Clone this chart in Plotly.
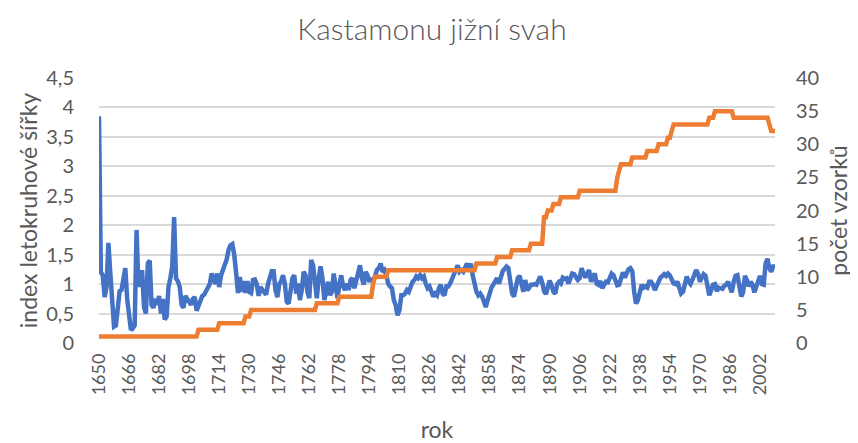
import plotly.graph_objects as go

title_text = "Kastamonu jižní svah"
x_title = "rok"
y1_title = "index letokruhové šířky"
y2_title = "počet vzorků"

start_year = 1650
end_year = 2010
years = list(range(start_year, end_year + 1))

# ring-width index, one value per year (1650..2010)
ring_index = [
    3.85, 1.2, 1.15, 0.78, 0.95, 1.7, 1.2, 0.6, 0.28, 0.3,      # 1650s
    0.6, 0.88, 0.9, 1.05, 1.27, 0.75, 0.4, 0.22, 0.25, 0.3,      # 1660s
    1.92, 0.95, 1.2, 1.2, 0.6, 0.5, 1.35, 1.4, 0.65, 0.6,        # 1670s
    0.75, 0.65, 0.8, 0.5, 0.75, 0.4, 0.45, 0.95, 1.1, 1.3,       # 1680s
    2.14, 1.1, 1.05, 0.95, 0.65, 0.6, 0.8, 0.75, 0.7, 0.65,      # 1690s
    0.75, 0.78, 0.55, 0.65, 0.73, 0.8, 0.82, 0.87, 0.92, 1.0,    # 1700s
    1.18, 1.1, 1.0, 1.18, 0.95, 1.15, 1.24, 1.3, 1.42, 1.58,     # 1710s
    1.66, 1.68, 1.5, 1.2, 0.85, 1.12, 0.87, 1.05, 0.85, 1.05,    # 1720s
    0.87, 0.85, 1.07, 1.08, 1.0, 0.8, 0.95, 0.9, 0.85, 0.82,     # 1730s
    1.0, 1.15, 1.22, 1.22, 0.9, 0.78, 1.0, 1.05, 1.15, 1.0,      # 1740s
    0.7, 0.67, 0.85, 1.1, 1.15, 0.84, 1.01, 0.73, 0.9, 1.21,     # 1750s
    1.15, 0.87, 0.76, 1.41, 1.32, 0.93, 0.76, 1.1, 1.3, 1.1,     # 1760s
    0.73, 0.87, 1.04, 0.81, 0.87, 1.18, 0.99, 0.76, 0.99, 1.15,  # 1770s
    0.96, 0.9, 1.01, 0.9, 1.07, 1.1, 0.93, 1.07, 1.21, 1.32,     # 1780s
    1.1, 0.99, 1.21, 1.15, 1.04, 1.1, 1.04, 1.15, 1.24, 1.27,    # 1790s
    1.35, 1.21, 1.24, 1.15, 1.01, 0.96, 0.93, 0.73, 0.64, 0.47,  # 1800s
    0.56, 0.81, 0.81, 0.84, 0.9, 0.87, 0.96, 1.04, 1.07, 1.13,   # 1810s
    1.1, 1.15, 1.1, 1.13, 1.01, 0.93, 0.96, 0.87, 0.79, 0.84,    # 1820s
    0.81, 0.93, 0.99, 0.84, 0.81, 0.96, 0.96, 1.01, 1.1, 1.15,   # 1830s
    1.27, 1.32, 1.21, 1.24, 1.21, 1.3, 1.35, 1.27, 1.35, 1.15,   # 1840s
    0.96, 0.87, 0.81, 0.84, 0.79, 0.67, 0.61, 0.73, 0.84, 0.94,  # 1850s
    0.99, 1.04, 1.1, 1.01, 1.15, 1.22, 1.26, 1.3, 1.27, 1.1,     # 1860s
    0.84, 0.79, 0.96, 1.1, 1.14, 1.01, 0.87, 1.07, 0.9, 0.93,    # 1870s
    0.99, 0.99, 1.0, 0.99, 1.07, 1.13, 1.03, 0.88, 0.83, 0.93,   # 1880s
    1.06, 0.98, 0.87, 0.84, 1.0, 1.04, 1.01, 1.11, 1.09, 1.1,    # 1890s
    1.01, 1.09, 1.18, 1.17, 1.13, 1.07, 1.1, 1.27, 1.18, 1.11,   # 1900s
    1.18, 1.24, 1.04, 1.1, 1.18, 1.01, 0.99, 1.05, 0.93, 0.99,   # 1910s
    1.04, 1.03, 1.1, 1.18, 1.15, 1.04, 0.98, 0.99, 1.11, 1.2,    # 1920s
    1.11, 1.21, 1.25, 1.27, 1.22, 0.87, 0.67, 0.73, 0.87, 0.99,  # 1930s
    0.94, 0.96, 0.94, 1.04, 1.04, 0.99, 0.9, 0.98, 1.05, 1.11,   # 1940s
    1.14, 1.17, 1.14, 1.18, 1.15, 1.09, 1.01, 1.0, 1.04, 0.94,   # 1950s
    0.84, 0.87, 1.04, 1.13, 1.04, 1.0, 1.07, 1.17, 1.24, 1.18,   # 1960s
    1.04, 1.11, 1.17, 1.14, 0.93, 0.81, 0.9, 0.99, 1.0, 0.88,    # 1970s
    0.94, 0.93, 0.92, 0.97, 0.99, 1.04, 0.97, 0.86, 1.04, 1.14,  # 1980s
    1.15, 1.01, 0.79, 0.86, 1.14, 1.07, 0.96, 1.04, 0.99, 0.86,  # 1990s
    0.94, 1.07, 1.14, 1.0, 0.99, 1.35, 1.43, 1.27, 1.21, 1.3,    # 2000s
    1.3,                                                         # 2010
]

# number of samples per year (1650..2010)
sample_count = [
    1, 1, 1, 1, 1, 1, 1, 1, 1, 1,              # 1650s
    1, 1, 1, 1, 1, 1, 1, 1, 1, 1,              # 1660s
    1, 1, 1, 1, 1, 1, 1, 1, 1, 1,              # 1670s
    1, 1, 1, 1, 1, 1, 1, 1, 1, 1,              # 1680s
    1, 1, 1, 1, 1, 1, 1, 1, 1, 1,              # 1690s
    1, 1, 1, 2, 2, 2, 2, 2, 2, 2,              # 1700s
    2, 2, 2, 2, 3, 3, 3, 3, 3, 3,              # 1710s
    3, 3, 3, 3, 3, 3, 3, 3, 4, 4,              # 1720s
    4, 5, 5, 5, 5, 5, 5, 5, 5, 5,              # 1730s
    5, 5, 5, 5, 5, 5, 5, 5, 5, 5,              # 1740s
    5, 5, 5, 5, 5, 5, 5, 5, 5, 5,              # 1750s
    5, 5, 5, 5, 5, 5, 6, 6, 6, 6,              # 1760s
    6, 6, 6, 6, 6, 6, 6, 6, 7, 7,              # 1770s
    7, 7, 7, 7, 7, 7, 7, 7, 7, 7,              # 1780s
    7, 7, 7, 7, 7, 7, 9, 10, 10, 10,           # 1790s
    10, 10, 10, 10, 11, 11, 11, 11, 11, 11,    # 1800s
    11, 11, 11, 11, 11, 11, 11, 11, 11, 11,    # 1810s
    11, 11, 11, 11, 11, 11, 11, 11, 11, 11,    # 1820s
    11, 11, 11, 11, 11, 11, 11, 11, 11, 11,    # 1830s
    11, 11, 11, 11, 11, 11, 11, 11, 11, 11,    # 1840s
    11, 12, 12, 12, 12, 12, 12, 12, 12, 12,    # 1850s
    12, 12, 13, 13, 13, 13, 13, 13, 13, 13,    # 1860s
    14, 14, 14, 14, 14, 14, 14, 14, 14, 14,    # 1870s
    15, 15, 15, 15, 15, 15, 15, 19, 19, 20,    # 1880s
    20, 20, 21, 21, 21, 21, 22, 22, 22, 22,    # 1890s
    22, 22, 22, 22, 22, 22, 23, 23, 23, 23,    # 1900s
    23, 23, 23, 23, 23, 23, 23, 23, 23, 23,    # 1910s
    23, 23, 23, 23, 23, 23, 25, 26, 27, 27,    # 1920s
    27, 27, 27, 27, 28, 28, 28, 28, 28, 28,    # 1930s
    28, 28, 29, 29, 29, 29, 29, 29, 30, 30,    # 1940s
    30, 30, 30, 31, 31, 32, 33, 33, 33, 33,    # 1950s
    33, 33, 33, 33, 33, 33, 33, 33, 33, 33,    # 1960s
    33, 33, 33, 33, 33, 34, 34, 34, 35, 35,    # 1970s
    35, 35, 35, 35, 35, 35, 35, 35, 34, 34,    # 1980s
    34, 34, 34, 34, 34, 34, 34, 34, 34, 34,    # 1990s
    34, 34, 34, 34, 34, 34, 34, 33, 32, 32,    # 2000s
    32,                                        # 2010
]

x_tick_years = list(range(1650, 2003, 16))
y1_ticks = [0, 0.5, 1, 1.5, 2, 2.5, 3, 3.5, 4, 4.5]
y1_ticktext = ["0", "0,5", "1", "1,5", "2", "2,5", "3", "3,5", "4", "4,5"]
y2_ticks = [0, 5, 10, 15, 20, 25, 30, 35, 40]

FONT = "Lato, Carlito, Calibri, sans-serif"
GREY = "#595959"
GRID = "#d9d9d9"

fig = go.Figure()
fig.add_trace(go.Scatter(
    x=years, y=ring_index, mode="lines", name="index",
    line=dict(color="#4472C4", width=4.5), yaxis="y",
))
fig.add_trace(go.Scatter(
    x=years, y=sample_count, mode="lines", name="počet",
    line=dict(color="#ED7D31", width=4.5), yaxis="y2",
))

W, H = 850, 435
fig.update_layout(
    width=W, height=H,
    margin=dict(l=91, r=83, t=70, b=100, autoexpand=False),
    paper_bgcolor="white", plot_bgcolor="white",
    showlegend=False,
    font=dict(family=FONT, color=GREY),
    title=dict(text=title_text, x=424 / W, xanchor="center", y=1 - 21 / H,
               yanchor="middle",
               font=dict(size=30, color=GREY, family=FONT, weight=300)),
    xaxis=dict(
        range=[start_year, end_year], tickvals=x_tick_years, tickangle=-90,
        tickfont=dict(size=18, color=GREY), showgrid=False, zeroline=False,
        showline=False, ticks="", ticklabelstandoff=6, automargin=False,
        title=dict(text=x_title, font=dict(size=23, color=GREY), standoff=29),
    ),
    yaxis=dict(
        range=[0, 4.5], tickvals=y1_ticks, ticktext=y1_ticktext,
        tickfont=dict(size=20, color=GREY), showgrid=True, gridcolor=GRID,
        gridwidth=1.5, zeroline=False, showline=False, ticks="",
        ticklabelstandoff=24, automargin=False,
        title=dict(text=y1_title, font=dict(size=23, color=GREY), standoff=2),
    ),
    yaxis2=dict(
        range=[0, 40], tickvals=y2_ticks, overlaying="y", side="right",
        tickfont=dict(size=20, color=GREY), showgrid=False, zeroline=False,
        showline=False, ticks="", ticklabelstandoff=20, automargin=False,
        title=dict(text=y2_title, font=dict(size=23, color=GREY), standoff=12),
    ),
)

fig.write_html("out.html")
